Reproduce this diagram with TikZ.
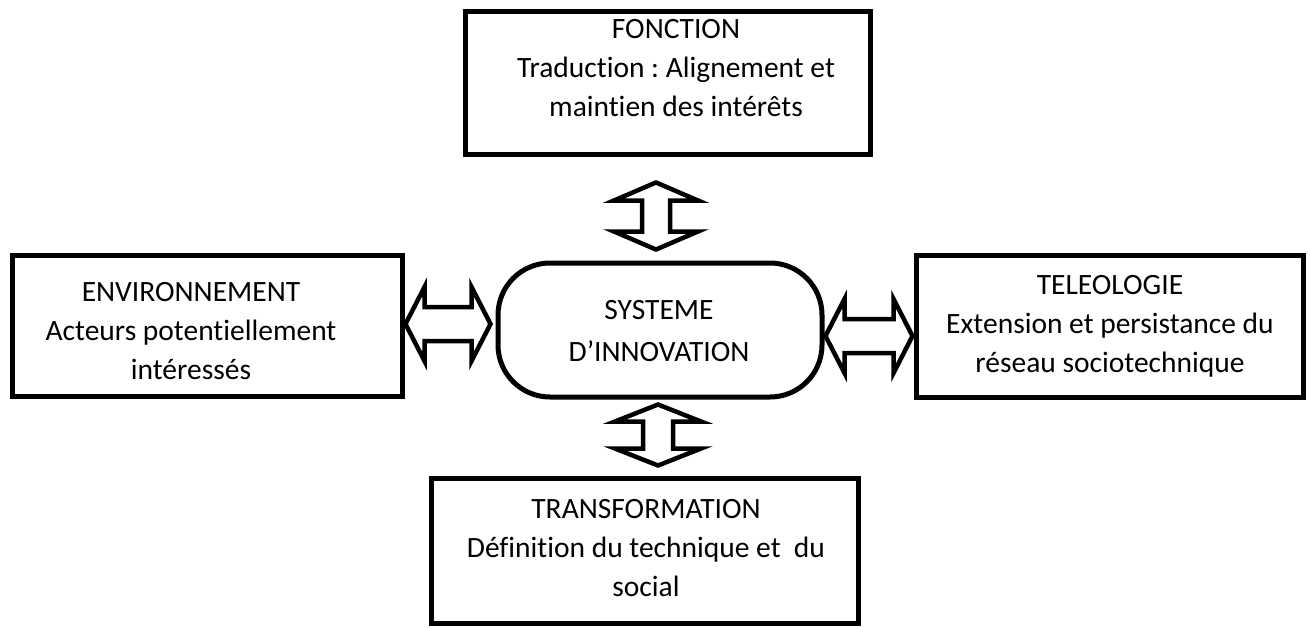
\documentclass[tikz,border=0pt]{standalone}
\usepackage{fontspec}
\setmainfont[RawFeature=-liga]{Carlito}
\frenchspacing
\begin{document}
\begin{tikzpicture}[x=1pt,y=-1pt,
  boxline/.style={draw=black,line width=5pt,line join=miter},
  txt/.style={align=center,font=\fontsize{29.5pt}{39pt}\selectfont,inner sep=0pt},
  blockarrow/.style={draw=black,fill=white,line width=4.5pt,line join=miter}]
\useasboundingbox (0,0) rectangle (1311,627);
% boxes
\draw[boxline] (465.5,11) rectangle (870,154);
\coordinate (fonction) at (668,83);
\draw[boxline] (12,255) rectangle (402,396);
\coordinate (env) at (207,325);
\draw[boxline] (916,255) rectangle (1303,397);
\coordinate (tele) at (1110,326);
\draw[boxline] (431.5,478) rectangle (858,623);
\coordinate (trans) at (645,550);
\draw[boxline,rounded corners=52pt] (498,263) rectangle (822,397);
\coordinate (sys) at (660,330);
% texts
\node[txt] (tfonction) at (676,68) {FONCTION\\Traduction : Alignement et\\maintien des intérêts};
\node[txt] (tenv) at (191,331) {ENVIRONNEMENT\\Acteurs potentiellement\\intéressés};
\node[txt] (ttele) at (1110,326) {TELEOLOGIE\\Extension et persistance du\\réseau sociotechnique};
\node[txt] (ttrans) at (646,548) {TRANSFORMATION\\Définition du technique et~ du\\social};
\node[txt,font=\fontsize{29.5pt}{42pt}\selectfont] (tsys) at (659,331) {SYSTEME\\D’INNOVATION};
% block arrows (top, bottom vertical; left, right horizontal)
\coordinate (atop) at (656,216);
\draw[blockarrow] (atop) ++(0,-33.5) -- ++(42,18) -- ++(-28,0) -- ++(0,31) -- ++(28,0)
  -- ++(-42,18) -- ++(-42,-18) -- ++(28,0) -- ++(0,-31) -- ++(-28,0) -- cycle;
\coordinate (abot) at (658,435);
\draw[blockarrow] (abot) ++(0,-30.5) -- ++(43,17) -- ++(-28,0) -- ++(0,27) -- ++(28,0)
  -- ++(-43,17) -- ++(-43,-17) -- ++(28,0) -- ++(0,-27) -- ++(-28,0) -- cycle;
\coordinate (aleft) at (448,324);
\draw[blockarrow] (aleft) ++(-42.5,0) -- ++(19,-37) -- ++(0,20) -- ++(47,0) -- ++(0,-20)
  -- ++(19,37) -- ++(-19,37) -- ++(0,-20) -- ++(-47,0) -- ++(0,20) -- cycle;
\coordinate (aright) at (869,336);
\draw[blockarrow] (aright) ++(-43.5,0) -- ++(19,-37) -- ++(0,20) -- ++(49,0) -- ++(0,-20)
  -- ++(19,37) -- ++(-19,37) -- ++(0,-20) -- ++(-49,0) -- ++(0,20) -- cycle;
\end{tikzpicture}
\end{document}
